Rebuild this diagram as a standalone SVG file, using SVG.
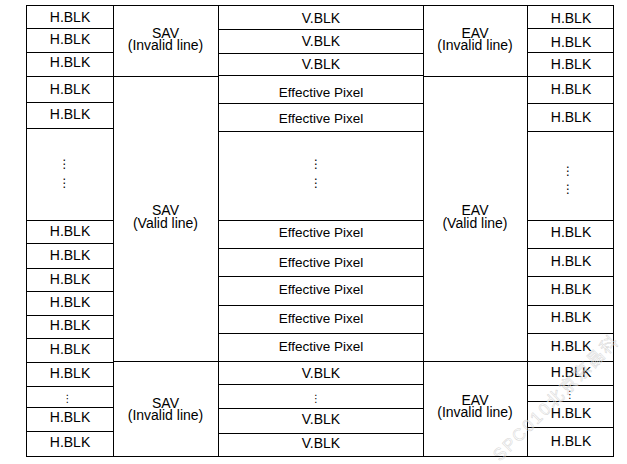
<svg xmlns="http://www.w3.org/2000/svg" width="627" height="464" viewBox="0 0 627 464">
  <style>
    .c { fill: #fff; stroke: #000; stroke-width: 1; }
    .t { font-family: "Liberation Sans", Arial, sans-serif; font-size: 14px; fill: #000; text-anchor: middle; }
    .e { font-size: 13.5px; }
    .d { font-family: "DejaVu Sans", sans-serif; font-size: 12px; fill: #000; text-anchor: middle; }
    .wm { font-family: "Liberation Sans", "Noto Sans CJK SC", sans-serif; font-size: 17px; fill: none; stroke: #d6d6d6; stroke-width: 0.5; letter-spacing: 2px; }
  </style>
  <rect width="627" height="464" fill="#fff"/>

  <!-- column 1: horizontal blanking, left -->
  <g id="hblk-left">
    <rect class="c" x="26.5" y="5.5" width="87" height="23"/>
    <rect class="c" x="26.5" y="28.5" width="87" height="24"/>
    <rect class="c" x="26.5" y="52.5" width="87" height="24"/>
    <rect class="c" x="26.5" y="76.5" width="87" height="26"/>
    <rect class="c" x="26.5" y="102.5" width="87" height="26"/>
    <rect class="c" x="26.5" y="128.5" width="87" height="92"/>
    <rect class="c" x="26.5" y="220.5" width="87" height="23"/>
    <rect class="c" x="26.5" y="243.5" width="87" height="25"/>
    <rect class="c" x="26.5" y="268.5" width="87" height="23"/>
    <rect class="c" x="26.5" y="291.5" width="87" height="24"/>
    <rect class="c" x="26.5" y="315.5" width="87" height="23"/>
    <rect class="c" x="26.5" y="338.5" width="87" height="24"/>
    <rect class="c" x="26.5" y="362.5" width="87" height="24"/>
    <rect class="c" x="26.5" y="386.5" width="87" height="21"/>
    <rect class="c" x="26.5" y="407.5" width="87" height="24"/>
    <rect class="c" x="26.5" y="431.5" width="87" height="25"/>
    <text class="t" x="70" y="22">H.BLK</text>
    <text class="t" x="70" y="43.5">H.BLK</text>
    <text class="t" x="70" y="67">H.BLK</text>
    <text class="t" x="70" y="93.5">H.BLK</text>
    <text class="t" x="70" y="118.5">H.BLK</text>
    <text class="d" x="64.5" y="168">⋮</text>
    <text class="d" x="64.5" y="187">⋮</text>
    <text class="t" x="70" y="236">H.BLK</text>
    <text class="t" x="70" y="260">H.BLK</text>
    <text class="t" x="70" y="283.5">H.BLK</text>
    <text class="t" x="70" y="307">H.BLK</text>
    <text class="t" x="70" y="330">H.BLK</text>
    <text class="t" x="70" y="353.5">H.BLK</text>
    <text class="t" x="70" y="378">H.BLK</text>
    <text class="d" x="67.5" y="402" style="font-size:10px">⋮</text>
    <text class="t" x="70" y="422">H.BLK</text>
    <text class="t" x="70" y="446.5">H.BLK</text>
  </g>

  <!-- column 2: start of active video -->
  <g id="sav-top">
    <rect class="c" x="113.5" y="5.5" width="105" height="71"/>
    <text class="t" x="165.5" y="37.5">SAV</text>
    <text class="t" x="165.5" y="50">(Invalid line)</text>
  </g>
  <g id="sav-mid">
    <rect class="c" x="113.5" y="76.5" width="105" height="285"/>
    <text class="t" x="165.5" y="215">SAV</text>
    <text class="t" x="165.5" y="227.5">(Valid line)</text>
  </g>
  <g id="sav-bottom">
    <rect class="c" x="113.5" y="361.5" width="105" height="95"/>
    <text class="t" x="165.5" y="408">SAV</text>
    <text class="t" x="165.5" y="420">(Invalid line)</text>
  </g>

  <!-- column 3: vertical blanking and effective pixels -->
  <g id="active-area">
    <rect class="c" x="218.5" y="5.5" width="205" height="24"/>
    <rect class="c" x="218.5" y="29.5" width="205" height="24"/>
    <rect class="c" x="218.5" y="53.5" width="205" height="22"/>
    <rect class="c" x="218.5" y="75.5" width="205" height="28"/>
    <rect class="c" x="218.5" y="103.5" width="205" height="28"/>
    <rect class="c" x="218.5" y="131.5" width="205" height="89"/>
    <rect class="c" x="218.5" y="220.5" width="205" height="28"/>
    <rect class="c" x="218.5" y="248.5" width="205" height="28"/>
    <rect class="c" x="218.5" y="276.5" width="205" height="29"/>
    <rect class="c" x="218.5" y="305.5" width="205" height="28"/>
    <rect class="c" x="218.5" y="333.5" width="205" height="28"/>
    <rect class="c" x="218.5" y="361.5" width="205" height="23"/>
    <rect class="c" x="218.5" y="384.5" width="205" height="24"/>
    <rect class="c" x="218.5" y="408.5" width="205" height="25"/>
    <rect class="c" x="218.5" y="433.5" width="205" height="23"/>
    <text class="t" x="321" y="22.5">V.BLK</text>
    <text class="t" x="321" y="46">V.BLK</text>
    <text class="t" x="321" y="68.5">V.BLK</text>
    <text class="t e" x="321" y="96.5">Effective Pixel</text>
    <text class="t e" x="321" y="122.5">Effective Pixel</text>
    <text class="d" x="316" y="168">⋮</text>
    <text class="d" x="316" y="187">⋮</text>
    <text class="t e" x="321" y="237">Effective Pixel</text>
    <text class="t e" x="321" y="266.5">Effective Pixel</text>
    <text class="t e" x="321" y="294">Effective Pixel</text>
    <text class="t e" x="321" y="322.5">Effective Pixel</text>
    <text class="t e" x="321" y="350.5">Effective Pixel</text>
    <text class="t" x="321" y="378">V.BLK</text>
    <text class="d" x="316" y="402" style="font-size:10px">⋮</text>
    <text class="t" x="321" y="423.5">V.BLK</text>
    <text class="t" x="321" y="448">V.BLK</text>
  </g>

  <!-- column 4: end of active video -->
  <g id="eav-top">
    <rect class="c" x="423.5" y="5.5" width="104" height="71"/>
    <text class="t" x="475" y="37.5">EAV</text>
    <text class="t" x="475" y="50">(Invalid line)</text>
  </g>
  <g id="eav-mid">
    <rect class="c" x="423.5" y="76.5" width="104" height="285"/>
    <text class="t" x="475" y="215">EAV</text>
    <text class="t" x="475" y="227.5">(Valid line)</text>
  </g>
  <g id="eav-bottom">
    <rect class="c" x="423.5" y="361.5" width="104" height="95"/>
    <text class="t" x="475" y="405">EAV</text>
    <text class="t" x="475" y="417">(Invalid line)</text>
  </g>

  <!-- column 5: horizontal blanking, right -->
  <g id="hblk-right">
    <rect class="c" x="527.5" y="5.5" width="86" height="23"/>
    <rect class="c" x="527.5" y="28.5" width="86" height="24"/>
    <rect class="c" x="527.5" y="52.5" width="86" height="24"/>
    <rect class="c" x="527.5" y="76.5" width="86" height="27"/>
    <rect class="c" x="527.5" y="103.5" width="86" height="28"/>
    <rect class="c" x="527.5" y="131.5" width="86" height="89"/>
    <rect class="c" x="527.5" y="220.5" width="86" height="28"/>
    <rect class="c" x="527.5" y="248.5" width="86" height="28"/>
    <rect class="c" x="527.5" y="276.5" width="86" height="29"/>
    <rect class="c" x="527.5" y="305.5" width="86" height="28"/>
    <rect class="c" x="527.5" y="333.5" width="86" height="28"/>
    <rect class="c" x="527.5" y="361.5" width="86" height="24"/>
    <rect class="c" x="527.5" y="385.5" width="86" height="16"/>
    <rect class="c" x="527.5" y="401.5" width="86" height="26"/>
    <rect class="c" x="527.5" y="427.5" width="86" height="29"/>
    <text class="t" x="571" y="22.5">H.BLK</text>
    <text class="t" x="571" y="46.5">H.BLK</text>
    <text class="t" x="571" y="68.5">H.BLK</text>
    <text class="t" x="571" y="94">H.BLK</text>
    <text class="t" x="571" y="121.5">H.BLK</text>
    <text class="d" x="568" y="175">⋮</text>
    <text class="d" x="568" y="193">⋮</text>
    <text class="t" x="571" y="237">H.BLK</text>
    <text class="t" x="571" y="266">H.BLK</text>
    <text class="t" x="571" y="294">H.BLK</text>
    <text class="t" x="571" y="322">H.BLK</text>
    <text class="t" x="571" y="350.5">H.BLK</text>
    <text class="t" x="571" y="376.5">H.BLK</text>
    <text class="d" x="570" y="398" style="font-size:10px">⋮</text>
    <text class="t" x="571" y="418">H.BLK</text>
    <text class="t" x="571" y="446">H.BLK</text>
  </g>

  <!-- faint diagonal watermark -->
  <text class="wm" x="500" y="462" transform="rotate(-45 500 462)">SPC010北京京晶科</text>
</svg>
